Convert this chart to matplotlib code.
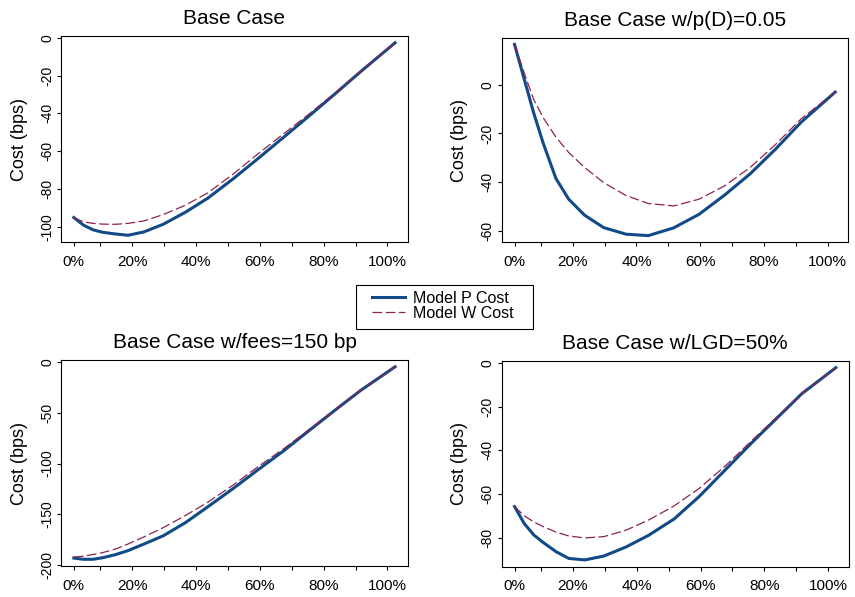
import matplotlib
matplotlib.use("Agg")
import matplotlib.pyplot as plt
from matplotlib.patches import Rectangle

plt.rcParams['font.family'] = ['Liberation Sans', 'DejaVu Sans']
plt.rcParams['axes.unicode_minus'] = False
plt.rcParams['lines.scale_dashes'] = False

# share of the position (percent), same grid for every case
share = [0, 3, 6, 9, 13, 17, 22, 28, 35, 42, 50, 58, 66, 74, 82, 90, 100.7]

# cost in bps, model P (solid) and model W (dashed)
base_p = [-95, -99, -101.5, -102.8, -103.7, -104.4, -102.6, -98.6, -92.2, -84.8, -74.5, -63.5, -52.3, -41, -29.5, -17.8, -2.7]
base_w = [-95, -97.3, -98.1, -98.5, -98.6, -98.1, -96.8, -93.5, -88.5, -82, -72, -61, -50.5, -40, -29, -17.5, -2.7]

pd_p = [16.6, 2.5, -11.5, -24, -38.5, -47, -53.6, -58.7, -61.4, -62, -58.8, -53.2, -45.3, -36.6, -26.4, -15.4, -3]
pd_w = [16.6, 5, -6, -13.5, -21.5, -27.8, -34, -40.2, -45.5, -48.8, -49.8, -47, -41.5, -34, -24.5, -14, -3]

fees_p = [-192.8, -194, -194, -192.5, -189.5, -185.5, -179, -171, -158, -142.5, -124.4, -105.5, -87, -67, -47.3, -28, -5]
fees_w = [-191.8, -191, -189.3, -187.5, -184, -179, -172, -163, -151, -138, -121, -102.5, -85, -66, -47, -27.5, -5]

lgd_p = [-65.8, -73.5, -78.8, -82.3, -86.5, -89.6, -90.3, -88.5, -84.3, -79, -71.5, -61, -49, -37, -25.5, -14, -2]
lgd_w = [-65.8, -70, -72.8, -75, -77.5, -79.3, -80.2, -79.6, -76.6, -72, -65.5, -57.3, -47.2, -36, -25, -13.8, -2]

titles = ["Base Case", "Base Case w/p(D)=0.05", "Base Case w/fees=150 bp", "Base Case w/LGD=50%"]
yticks = [[0, -20, -40, -60, -80, -100], [0, -20, -40, -60],
          [0, -50, -100, -150, -200], [0, -20, -40, -60, -80]]
xtick_pos = [0, 8.3, 18.3, 28.3, 38.3, 48.3, 58.3, 68.3, 78.3, 88.3, 98.3]
xtick_lab = ["0%", "", "20%", "", "40%", "", "60%", "", "80%", "", "100%"]

p_color = '#114a86'
w_color = '#8c2250'

fig = plt.figure(figsize=(8.55, 5.97), dpi=100)
boxes = [[0.0713, 0.5946, 0.4058, 0.345], [0.5868, 0.5941, 0.405, 0.3427],
         [0.0713, 0.0519, 0.4058, 0.345], [0.5868, 0.0508, 0.4058, 0.3446]]
series = [(base_p, base_w), (pd_p, pd_w), (fees_p, fees_w), (lgd_p, lgd_w)]

for i in range(4):
    ax = fig.add_axes(boxes[i])
    p, w = series[i]
    lp, = ax.plot(share, p, color=p_color, lw=2.2, solid_joinstyle='round')
    lw_, = ax.plot(share, w, color=w_color, lw=0.9, dashes=(7, 2.5))
    ax.margins(x=0.04, y=0.035)
    ax.set_xticks(xtick_pos)
    ax.set_xticklabels(xtick_lab, fontsize=11)
    ax.set_yticks(yticks[i])
    ax.set_yticklabels([str(v) for v in yticks[i]], fontsize=10, rotation=90, va='center')
    ax.tick_params(direction='out', length=3, width=0.8, pad=6)
    ax.tick_params(axis='y', pad=2)
    for s in ax.spines.values():
        s.set_linewidth(0.8)
    ax.set_ylabel("Cost (bps)", fontsize=13, labelpad=9)
    ax.set_title(titles[i], fontsize=15, pad=8.7)

# legend between the two rows, with its own frame
fig.legend([lp, lw_], ["Model P Cost", "Model W Cost"], loc='upper left',
           bbox_to_anchor=(371.7 / 855, 1 - 291 / 597), fontsize=11.5,
           frameon=False, handlelength=2.1, labelspacing=-0.02,
           borderpad=0, borderaxespad=0, handletextpad=0.5)
fig.patches.append(Rectangle((356 / 855, 1 - 329 / 597), 177 / 855, 44 / 597,
                             transform=fig.transFigure, fill=False,
                             edgecolor='black', lw=0.8))

fig.savefig("out.png", dpi=100)
